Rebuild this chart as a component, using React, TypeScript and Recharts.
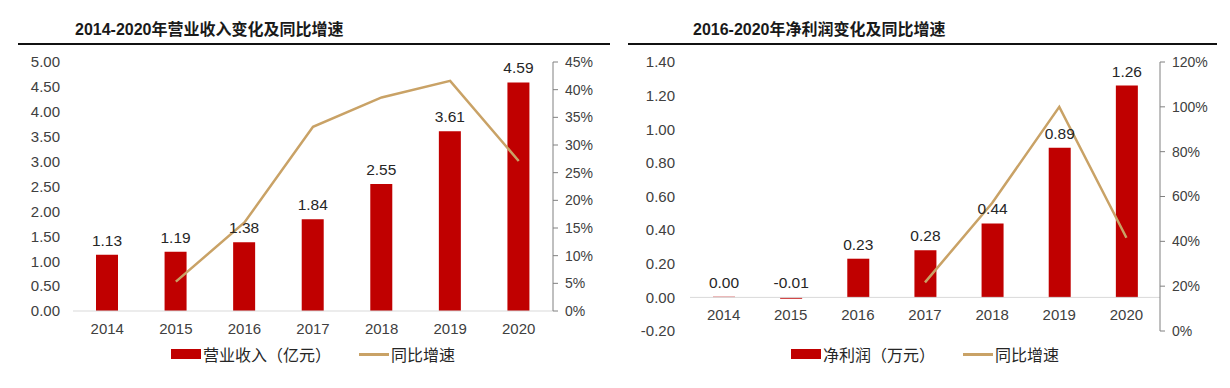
import React from 'react'
import {
  ComposedChart,
  Bar,
  Line,
  XAxis,
  YAxis,
  Legend,
  LabelList,
  ReferenceLine,
} from 'recharts'

// categories and series
const years = ['2014', '2015', '2016', '2017', '2018', '2019', '2020']
const revenue = [1.13, 1.19, 1.38, 1.84, 2.55, 3.61, 4.59]
const revenueGrowth = [null, 5.3, 16.0, 33.3, 38.6, 41.6, 27.1]
const profit = [0.004, -0.008, 0.23, 0.28, 0.44, 0.89, 1.26]
const profitGrowth = [null, null, null, 21.7, 57.1, 100, 41.6]

// axis ticks
const revenueTicks = [0, 0.5, 1, 1.5, 2, 2.5, 3, 3.5, 4, 4.5, 5]
const revenuePctTicks = [0, 5, 10, 15, 20, 25, 30, 35, 40, 45]
const profitTicks = [-0.2, 0, 0.2, 0.4, 0.6, 0.8, 1.0, 1.2, 1.4]
const profitPctTicks = [0, 20, 40, 60, 80, 100, 120]

const revenueData = years.map((year, i) => ({
  year,
  value: revenue[i],
  growth: revenueGrowth[i],
}))
const profitData = years.map((year, i) => ({
  year,
  value: profit[i],
  growth: profitGrowth[i],
}))

const RED = '#C00000'
const TAN = '#C9A266'
const TEXT = '#404040'
const FONT = '"Liberation Sans", Arial, "Noto Sans CJK SC", sans-serif'

// label always sits above the bar, even for negative values
const BarValueLabel = (props: any) => {
  const { x, y, width, height, value } = props
  const top = Math.min(y, y + height)
  return (
    <text
      x={x + width / 2}
      y={top - 9}
      textAnchor="middle"
      fontSize={15.5}
      fill="#262626"
      fontFamily={FONT}
    >
      {Number(value).toFixed(2)}
    </text>
  )
}

const LegendContent = (props: any) => {
  // bar item first, then the line
  const payload = [...(props.payload || [])].sort(
    (a: any, b: any) => (a.type === 'rect' ? 0 : 1) - (b.type === 'rect' ? 0 : 1)
  )
  return (
    <div
      style={{
        display: 'flex',
        justifyContent: 'center',
        alignItems: 'center',
        fontSize: 16,
        color: '#262626',
        fontFamily: '"Noto Sans CJK SC", sans-serif',
        lineHeight: '22px',
      }}
    >
      {payload.map((entry: any, i: number) => (
        <div
          key={entry.value}
          style={{ display: 'flex', alignItems: 'center', marginLeft: i === 0 ? 0 : 28 }}
        >
          {entry.type === 'rect' ? (
            <span style={{ width: 30, height: 10, background: RED, marginRight: 2 }} />
          ) : (
            <span style={{ width: 30, height: 3, background: TAN, marginRight: 2 }} />
          )}
          <span>{entry.value}</span>
        </div>
      ))}
    </div>
  )
}

// x tick placed just under the zero line for the profit chart
const ProfitTick = (props: any) => {
  const { x, y, payload } = props
  return (
    <text x={x} y={y} dy={-11} textAnchor="middle" fontSize={15} fill={TEXT} fontFamily={FONT}>
      {payload.value}
    </text>
  )
}

const Title = ({ text, left, lineLeft, lineWidth }: any) => (
  <>
    <div
      style={{
        position: 'absolute',
        left,
        top: 16,
        fontSize: 16,
        fontWeight: 700,
        color: '#1a1a1a',
        fontFamily: FONT,
        whiteSpace: 'nowrap',
      }}
    >
      {text}
    </div>
    <div
      style={{
        position: 'absolute',
        left: lineLeft,
        top: 43,
        width: lineWidth,
        height: 1.5,
        background: '#111',
      }}
    />
  </>
)

export default function App() {
  return (
    <div style={{ position: 'relative', width: 1230, height: 388, background: '#fff', fontFamily: FONT }}>
      <style>{'body{margin:0}'}</style>

      <Title text="2014-2020年营业收入变化及同比增速" left={75} lineLeft={18} lineWidth={592} />
      <div style={{ position: 'absolute', left: 0, top: 0 }}>
        <ComposedChart
          width={615}
          height={388}
          data={revenueData}
          margin={{ top: 62, right: 0, bottom: 47, left: 0 }}
        >
          <XAxis
            dataKey="year"
            height={30}
            axisLine={{ stroke: '#d9d9d9' }}
            tickLine={false}
            tickSize={0}
            tickMargin={12}
            tick={{ fontSize: 15, fill: TEXT }}
          />
          <YAxis
            yAxisId="left"
            width={73}
            domain={[0, 5]}
            ticks={revenueTicks}
            axisLine={false}
            tickLine={false}
            tickSize={0}
            tickMargin={13}
            tick={{ fontSize: 15, fill: TEXT }}
            tickFormatter={(v) => Number(v).toFixed(2)}
          />
          <YAxis
            yAxisId="pct"
            orientation="right"
            width={62}
            domain={[0, 45]}
            ticks={revenuePctTicks}
            axisLine={{ stroke: '#808080' }}
            tickLine={{ stroke: '#808080' }}
            tickSize={5}
            tickMargin={7}
            tick={{ fontSize: 14, fill: TEXT }}
            tickFormatter={(v) => `${v}%`}
          />
          <Legend
            verticalAlign="middle"
            align="center"
            content={<LegendContent />}
            wrapperStyle={{ top: 343, left: 73, width: 480 }}
          />
          <Bar
            yAxisId="left"
            dataKey="value"
            name="营业收入（亿元）"
            fill={RED}
            barSize={22}
            isAnimationActive={false}
            legendType="rect"
          >
            <LabelList dataKey="value" content={<BarValueLabel />} />
          </Bar>
          <Line
            yAxisId="pct"
            dataKey="growth"
            name="同比增速"
            stroke={TAN}
            strokeWidth={2.5}
            dot={false}
            activeDot={false}
            isAnimationActive={false}
            legendType="line"
          />
        </ComposedChart>
      </div>

      <Title text="2016-2020年净利润变化及同比增速" left={693} lineLeft={628} lineWidth={589} />
      <div style={{ position: 'absolute', left: 615, top: 0 }}>
        <ComposedChart
          width={615}
          height={388}
          data={profitData}
          margin={{ top: 62, right: 0, bottom: 27, left: 0 }}
        >
          <XAxis
            dataKey="year"
            height={30}
            axisLine={false}
            tickLine={false}
            tickSize={0}
            tickMargin={0}
            tick={<ProfitTick />}
          />
          <YAxis
            yAxisId="left"
            width={75}
            domain={[-0.2, 1.4]}
            ticks={profitTicks}
            axisLine={false}
            tickLine={false}
            tickSize={0}
            tickMargin={15}
            tick={{ fontSize: 15, fill: TEXT }}
            tickFormatter={(v) => Number(v).toFixed(2)}
          />
          <YAxis
            yAxisId="pct"
            orientation="right"
            width={70}
            domain={[0, 120]}
            ticks={profitPctTicks}
            axisLine={{ stroke: '#808080' }}
            tickLine={{ stroke: '#808080' }}
            tickSize={5}
            tickMargin={7}
            tick={{ fontSize: 14, fill: TEXT }}
            tickFormatter={(v) => `${v}%`}
          />
          <ReferenceLine yAxisId="left" y={0} stroke="#d9d9d9" strokeWidth={1} />
          <Legend
            verticalAlign="middle"
            align="center"
            content={<LegendContent />}
            wrapperStyle={{ top: 343, left: 75, width: 470 }}
          />
          <Bar
            yAxisId="left"
            dataKey="value"
            name="净利润（万元）"
            fill={RED}
            barSize={22}
            isAnimationActive={false}
            legendType="rect"
          >
            <LabelList dataKey="value" content={<BarValueLabel />} />
          </Bar>
          <Line
            yAxisId="pct"
            dataKey="growth"
            name="同比增速"
            stroke={TAN}
            strokeWidth={2.5}
            dot={false}
            activeDot={false}
            isAnimationActive={false}
            legendType="line"
          />
        </ComposedChart>
      </div>
    </div>
  )
}
